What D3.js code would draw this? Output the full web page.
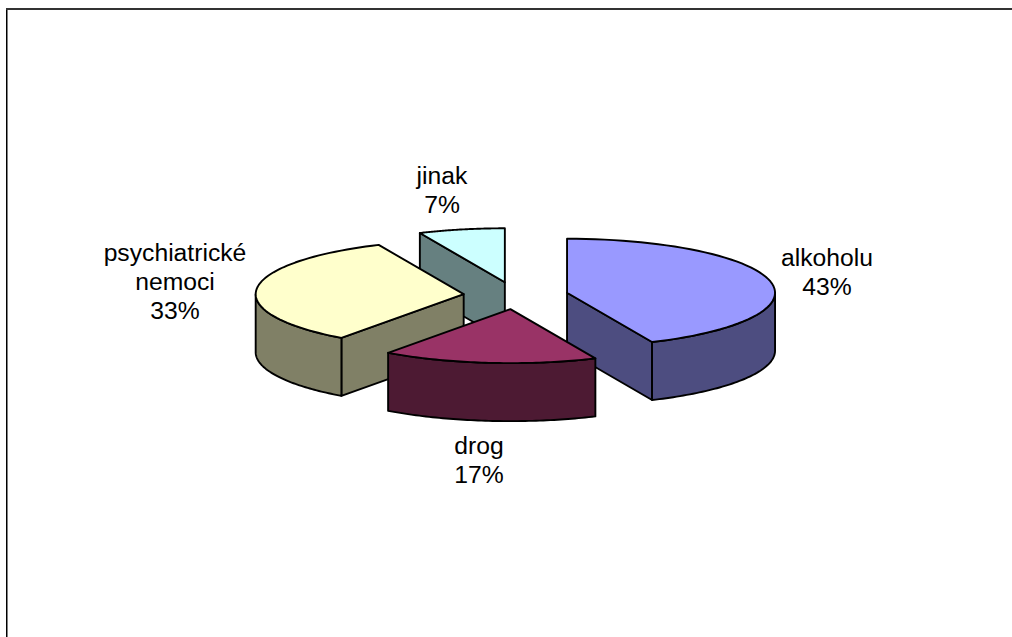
<!DOCTYPE html>
<html><head><meta charset="utf-8">
<script src="https://cdn.jsdelivr.net/npm/d3@7"></script>
<style>html,body{margin:0;padding:0;background:#fff}svg{display:block}</style>
</head><body><svg id="c" width="1012" height="637"></svg>
<script>
const categories = ["alkoholu", "drog", "psychiatrické nemoci", "jinak"];
const values = [43.3, 16.7, 33.3, 6.7];
const labelLines = [["alkoholu","43%"],["drog","17%"],["psychiatrické","nemoci","33%"],["jinak","7%"]];
const topColors = ["#9999FF", "#993366", "#FFFFCC", "#CCFFFF"];
const sideColors = ["#4D4D80", "#4D1A33", "#808066", "#668080"];
const labelAnchors = [[827,258],[479,446],[175,253],[442,176]];
const drawOrder = [3, 2, 0, 1];

const W = 1012, H = 637;
const cx = 515.8, cy = 295.6, rx = 208, ry = 54, depth = 58, explode = 52.4;
const xs = d3.scaleLinear().domain([-1,1]).range([cx-rx, cx+rx]);
const ys = d3.scaleLinear().domain([-1,1]).range([cy+ry, cy-ry]);

const svg = d3.select("#c");
svg.append("line").attr("x1",6.75).attr("x2",6.75).attr("y1",8).attr("y2",H).attr("stroke","#000").attr("stroke-width",1.5);
svg.append("line").attr("x1",6).attr("x2",W).attr("y1",9).attr("y2",9).attr("stroke","#333").attr("stroke-width",2);

const arcs = d3.pie().sort(null).startAngle(0).endAngle(2*Math.PI)(values);
const line = d3.line().x(d=>d[0]).y(d=>d[1]);
const steps = a => d3.range(0, 61).map(i => a[0] + (a[1]-a[0])*i/60);

function sliceGeom(arc){
  const mid = (arc.startAngle+arc.endAngle)/2;
  const ox = Math.sin(mid)*explode/rx, oy = Math.cos(mid)*explode/rx;
  const pt = (t,r=1,dz=0)=>[xs(ox + r*Math.sin(t)), ys(oy + r*Math.cos(t)) + dz];
  return {pt};
}
const g = svg.append("g").attr("stroke","#000").attr("stroke-width",1.9).attr("stroke-linejoin","round");
drawOrder.forEach(i=>{
  const a = arcs[i], {pt} = sliceGeom(a);
  const s = a.startAngle, e = a.endAngle, gs = g.append("g");
  const face = t => [pt(t,0), pt(t,1), pt(t,1,depth), pt(t,0,depth)];
  if (Math.sin(s) < 0) gs.append("path").attr("d", line(face(s))+"Z").attr("fill", sideColors[i]);
  if (Math.sin(e) > 0) gs.append("path").attr("d", line(face(e))+"Z").attr("fill", sideColors[i]);
  const w0 = Math.max(s, Math.PI/2), w1 = Math.min(e, 3*Math.PI/2);
  if (w1 > w0) {
    const ts = steps([w0,w1]);
    gs.append("path").attr("fill", sideColors[i])
      .attr("d", line(ts.map(t=>pt(t)).concat(ts.slice().reverse().map(t=>pt(t,1,depth))))+"Z");
  }
  gs.append("path").attr("fill", topColors[i])
    .attr("d", line([pt(s,0)].concat(steps([s,e]).map(t=>pt(t))))+"Z");
});
const fontSize = 24.7, lh = 29;
labelLines.forEach((ls,i)=>{
  const t = svg.append("text").attr("text-anchor","middle")
    .attr("font-family","'Liberation Sans',Arial,sans-serif").attr("font-size",fontSize).attr("fill","#000");
  ls.forEach((l,j)=>t.append("tspan").attr("x",labelAnchors[i][0]).attr("y",labelAnchors[i][1]+8+j*lh).text(l));
});
</script></body></html>
